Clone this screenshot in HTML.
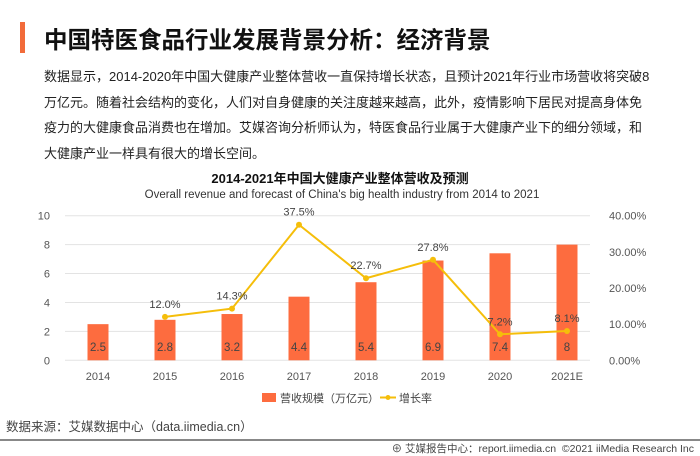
<!DOCTYPE html>
<html><head><meta charset="utf-8"><style>
body{margin:0;width:700px;height:455px;background:#fff;font-family:"Liberation Sans","Noto Sans CJK SC",sans-serif;position:relative;overflow:hidden;color:#222}
.abs{position:absolute}
</style></head><body>
<div class="abs" style="left:20px;top:22px;width:5px;height:31px;background:#f26b3a"></div>
<div class="abs" style="left:44px;top:21px;font-size:23.5px;font-weight:bold;color:#111;white-space:nowrap">中国特医食品行业发展背景分析：经济背景</div>
<div class="abs" style="left:44px;top:64px;font-size:13px;line-height:25.7px;color:#222;white-space:nowrap">数据显示，2014-2020年中国大健康产业整体营收一直保持增长状态，且预计2021年行业市场营收将突破8<br>万亿元。随着社会结构的变化，人们对自身健康的关注度越来越高，此外，疫情影响下居民对提高身体免<br>疫力的大健康食品消费也在增加。艾媒咨询分析师认为，特医食品行业属于大健康产业下的细分领域，和<br>大健康产业一样具有很大的增长空间。</div>
<div class="abs" style="left:0;width:680px;text-align:center;top:168px;font-size:13px;font-weight:bold;color:#111">2014-2021年中国大健康产业整体营收及预测</div>
<div class="abs" style="left:0;width:684px;text-align:center;top:189px;font-size:11.5px;color:#333">Overall revenue and forecast of China's big health industry from 2014 to 2021</div>
<svg class="abs" style="left:0;top:0" width="700" height="455" id="chart"></svg>
<div class="abs" style="left:6px;top:416px;font-size:12.5px;color:#444">数据来源：艾媒数据中心（data.iimedia.cn）</div>
<div class="abs" style="left:0;top:439px;width:700px;height:2px;background:#888"></div>
<div class="abs" style="right:6px;top:441px;font-size:10.5px;color:#444">⊕ 艾媒报告中心：report.iimedia.cn &nbsp;©2021 iiMedia Research Inc</div>
<script>
const categories=["2014","2015","2016","2017","2018","2019","2020","2021E"];
const revenue=[2.5,2.8,3.2,4.4,5.4,6.9,7.4,8];
const growth=[null,12.0,14.3,37.5,22.7,27.8,7.2,8.1];
const leftTicks=[0,2,4,6,8,10];
const rightTicks=["0.00%","10.00%","20.00%","30.00%","40.00%"];
const svg=document.getElementById('chart');const NS="http://www.w3.org/2000/svg";
function mk(t,a,txt){const e=document.createElementNS(NS,t);for(const k in a)e.setAttribute(k,a[k]);if(txt!=null)e.textContent=txt;svg.appendChild(e);return e;}
const y0=360.3,y1=215.7,xL=65,xR=590;
const yL=v=>y0-(v/10)*(y0-y1);
const yR=p=>y0-(p/40)*(y0-y1);
const xC=i=>98+i*67;
leftTicks.forEach(v=>{let g=mk('line',{x1:xL,x2:xR,y1:yL(v),y2:yL(v),stroke:'#e3e3e3','stroke-width':1});

let t=mk('text',{x:50,y:yL(v)+4,'text-anchor':'end','font-size':11,fill:'#555'},v);
});
rightTicks.forEach((s,i)=>{let t=mk('text',{x:609,y:yR(i*10)+4,'font-size':11,fill:'#555'},s);
});
categories.forEach((c,i)=>{let t=mk('text',{x:xC(i),y:380,'text-anchor':'middle','font-size':11,fill:'#555'},c);

let b=mk('rect',{x:xC(i)-10.5,y:yL(revenue[i]),width:21,height:y0-yL(revenue[i]),fill:'#fd6c3f'});

let l=mk('text',{x:xC(i),y:351,'text-anchor':'middle','font-size':11.5,fill:'#444'},revenue[i]);
});
let pts=[];growth.forEach((g,i)=>{if(g!=null)pts.push(xC(i)+','+yR(g));});
let pl=mk('polyline',{points:pts.join(' '),fill:'none',stroke:'#f5be0a','stroke-width':2});

growth.forEach((g,i)=>{if(g==null)return;
let c=mk('circle',{cx:xC(i),cy:yR(g),r:3,fill:'#f5be0a'});

let t=mk('text',{x:xC(i),y:yR(g)-9,'text-anchor':'middle','font-size':11,fill:'#444'},g.toFixed(1)+'%');
});
let lr=mk('rect',{x:262,y:393,width:14,height:9,fill:'#fd6c3f'});

let lt=mk('text',{x:280,y:402,'font-size':11,fill:'#444'},'营收规模（万亿元）');

let ll=mk('line',{x1:380,x2:396,y1:397.5,y2:397.5,stroke:'#f5be0a','stroke-width':2});

let lc=mk('circle',{cx:388,cy:397.5,r:2.5,fill:'#f5be0a'});

let lg=mk('text',{x:399,y:402,'font-size':11,fill:'#444'},'增长率');

</script>
</body></html>
